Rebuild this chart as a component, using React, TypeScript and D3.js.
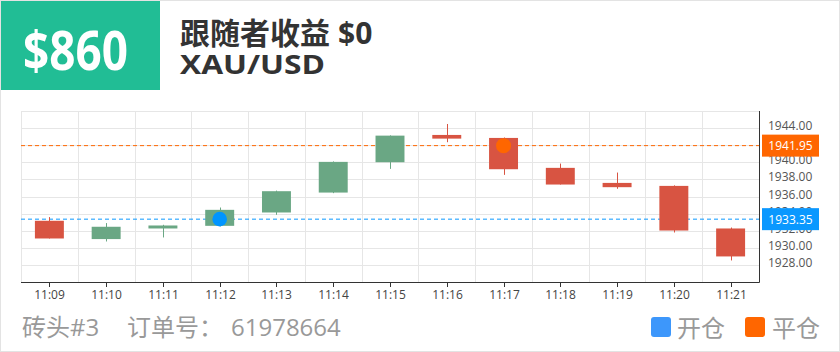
import React from "react";
import * as d3 from "d3";

const categories = ["11:09","11:10","11:11","11:12","11:13","11:14","11:15","11:16","11:17","11:18","11:19","11:20","11:21"];
const opens  = [1933.16,1931.02,1932.26,1932.57,1934.13,1936.46,1940.01,1943.20,1942.85,1939.35,1937.59,1937.24,1932.26];
const closes = [1931.09,1932.46,1932.61,1934.44,1936.62,1940.05,1943.12,1942.77,1939.19,1937.40,1937.09,1932.02,1928.99];
const highs  = [1933.59,1932.89,1932.69,1934.71,1936.69,1940.10,1943.15,1944.48,1942.90,1939.85,1938.80,1937.30,1932.37];
const lows   = [1931.09,1930.74,1931.21,1932.50,1933.86,1936.39,1939.23,1942.35,1938.53,1937.40,1936.90,1931.79,1928.52];
const yTicks = [1928,1930,1932,1934,1936,1938,1940,1942,1944];
const gridValues = [1926,1928,1930,1932,1934,1936,1938,1940,1942,1944,1946];
const openPrice = 1933.35;
const closePrice = 1941.95;
const openCat = "11:12";
const closeCat = "11:17";

const W = 840, H = 352;
const L = 21, R = 759, T = 111, B = 282;
const GREEN = "#6aa784", RED = "#d85442";
const BLUE = "#0a98ff", ORANGE = "#ff6600";

export default function App() {
  const x = d3.scaleBand<string>().domain(categories).range([L, R]).padding(0);
  const y = d3.scaleLinear().domain([1926, 1946]).range([B, T]);
  const bw = x.bandwidth();
  const cw = bw * 0.51;
  const bounds = categories.map((c) => x(c) as number).concat([R]);
  const latin = "'Open Sans', 'Noto Sans CJK SC', sans-serif";
  const cjk = "'Noto Sans CJK SC', 'Open Sans', sans-serif";

  return (
    <svg width={W} height={H} style={{ position: "absolute", left: 0, top: 0 }}>
      <rect x={0.5} y={0.5} width={W - 1} height={H - 1} fill="#fff" stroke="#e3e3e3" />
      <rect x={1} y={1} width={159} height={89} fill="#21bd95" />
      <text x={23} y={70} fill="#fff" fontFamily={latin} fontWeight={700} fontSize={54}
        textLength={105} lengthAdjust="spacingAndGlyphs">$860</text>
      <text x={180} y={44} fill="#333" fontWeight={700} fontSize={30}>
        <tspan fontFamily={cjk}>跟随者收益</tspan>
        <tspan fontFamily={latin} dx={8}>$0</tspan>
      </text>
      <text x={180} y={74} fill="#333" fontFamily={latin} fontWeight={700} fontSize={27}
        textLength={145} lengthAdjust="spacingAndGlyphs">XAU/USD</text>

      {/* grid */}
      {gridValues.map((v) => (
        <line key={"h" + v} x1={L} x2={R} y1={Math.round(y(v)) + 0.5} y2={Math.round(y(v)) + 0.5} stroke="#e6e6e6" />
      ))}
      {bounds.map((bx, i) => (
        <line key={"v" + i} x1={Math.round(bx) + 0.5} x2={Math.round(bx) + 0.5} y1={T} y2={B} stroke="#e6e6e6" />
      ))}

      {/* price lines */}
      <line x1={L} x2={R} y1={y(closePrice)} y2={y(closePrice)} stroke={ORANGE} strokeDasharray="4,3" />
      <line x1={L} x2={R} y1={y(openPrice)} y2={y(openPrice)} stroke={BLUE} strokeDasharray="4,3" />

      {/* candles */}
      {categories.map((c, i) => {
        const cx = (x(c) as number) + bw / 2;
        const up = closes[i] >= opens[i];
        const col = up ? GREEN : RED;
        const top = y(Math.max(opens[i], closes[i]));
        const bot = y(Math.min(opens[i], closes[i]));
        return (
          <g key={c}>
            <line x1={Math.round(cx) + 0.5} x2={Math.round(cx) + 0.5} y1={y(highs[i])} y2={y(lows[i])} stroke={col} strokeWidth={1} />
            <rect x={cx - cw / 2} y={top} width={cw} height={Math.max(1, bot - top)} fill={col} />
          </g>
        );
      })}

      {/* markers */}
      <circle cx={(x(openCat) as number) + bw / 2} cy={y(openPrice)} r={7.3} fill="#0095ff" />
      <circle cx={(x(closeCat) as number) + bw / 2} cy={y(closePrice)} r={7.5} fill={ORANGE} />

      {/* axes */}
      <line x1={L} x2={R + 0.5} y1={B + 0.5} y2={B + 0.5} stroke="#333" />
      <line x1={R + 0.5} x2={R + 0.5} y1={T} y2={B + 0.5} stroke="#333" />
      {categories.map((c) => {
        const cx = Math.round((x(c) as number) + bw / 2) + 0.5;
        return (
          <g key={"t" + c}>
            <line x1={cx} x2={cx} y1={B} y2={B + 5} stroke="#333" />
            <text x={cx} y={299} textAnchor="middle" fontSize={12} fill="#444" fontFamily={latin}>{c}</text>
          </g>
        );
      })}
      {yTicks.map((v) => (
        <text key={"y" + v} x={768} y={y(v) + 2} fontSize={12} fill="#555" fontFamily={latin}>{v.toFixed(2)}</text>
      ))}

      {/* price labels */}
      <rect x={762} y={y(closePrice) - 11} width={57} height={22} fill={ORANGE} />
      <text x={790.5} y={y(closePrice) + 4.5} textAnchor="middle" fontSize={12} fill="#fff" fontFamily={latin}>{closePrice.toFixed(2)}</text>
      <rect x={762} y={y(openPrice) - 11} width={57} height={22} fill={BLUE} />
      <text x={790.5} y={y(openPrice) + 4.5} textAnchor="middle" fontSize={12} fill="#fff" fontFamily={latin}>{openPrice.toFixed(2)}</text>

      {/* footer */}
      <text x={22} y={336} fontSize={24} fill="#999">
        <tspan fontFamily={cjk}>砖头</tspan>
        <tspan fontFamily={latin}>#3</tspan>
      </text>
      <text x={127} y={336} fontSize={24} fill="#999" fontFamily={cjk}>订单号：</text>
      <text x={231} y={336} fontSize={24} fill="#999" fontFamily={latin}>61978664</text>
      <rect x={651} y={317} width={20} height={20} rx={3} fill="#3d97fb" />
      <text x={677} y={337} fontSize={24} fill="#999" fontFamily={cjk}>开仓</text>
      <rect x={745} y={317} width={20} height={20} rx={3} fill={ORANGE} />
      <text x={772} y={337} fontSize={24} fill="#999" fontFamily={cjk}>平仓</text>
    </svg>
  );
}
